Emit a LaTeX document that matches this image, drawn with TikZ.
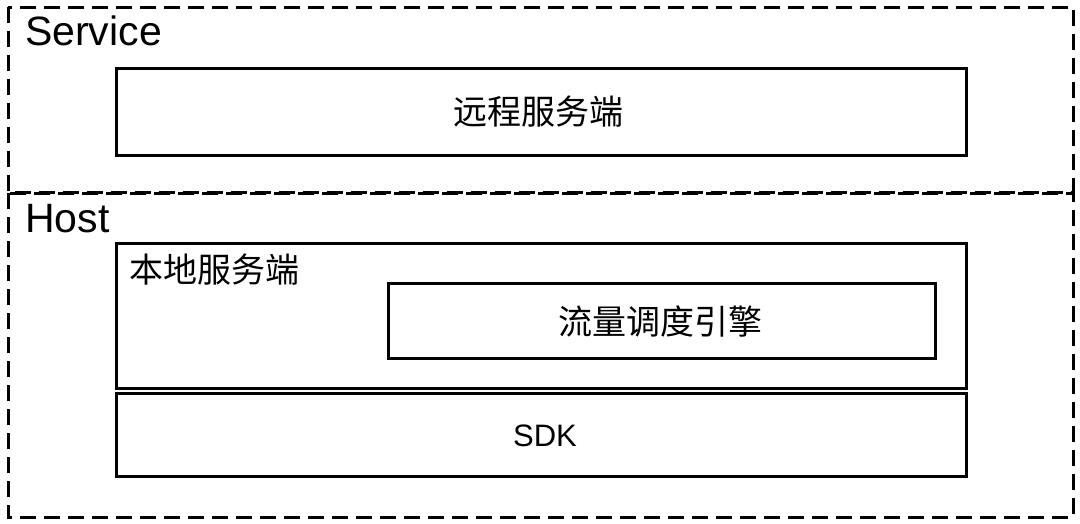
\documentclass[tikz,border=0pt]{standalone}
\usepackage{fontspec}
\setmainfont{Liberation Sans}
\newfontfamily\cjk{Noto Sans CJK SC}
\begin{document}
\begin{tikzpicture}[x=1pt,y=-1pt,
  group/.style={draw=black,line width=3pt,dash pattern=on 16pt off 8pt},
  box/.style={draw=black,line width=3pt},
  lbl/.style={font=\fontsize{41}{41}\selectfont,anchor=base west,inner sep=0pt},
  cn/.style={font=\cjk\fontsize{34}{34}\selectfont,inner sep=0pt},
  en/.style={font=\fontsize{31}{31}\selectfont,inner sep=0pt}]
\useasboundingbox (0,0) rectangle (1080,523);
\draw[group] (8,193) rectangle (1073,517);
\draw[group] (8,7) rectangle (1073,192);
\node[lbl] (svc) at (25,45) {Service};
\node[lbl] (host) at (25,232) {Host};
\draw[box] (116,68) rectangle (966,155);
\node[cn] (remote) at (538,112) {远程服务端};
\draw[box] (116,243) rectangle (966,388);
\node[cn,anchor=west] (local) at (129,270) {本地服务端};
\draw[box] (388,283) rectangle (935,358);
\node[cn] (flow) at (660,321) {流量调度引擎};
\draw[box] (116,393) rectangle (966,476);
\node[en] (sdk) at (545,436) {SDK};
\end{tikzpicture}
\end{document}
